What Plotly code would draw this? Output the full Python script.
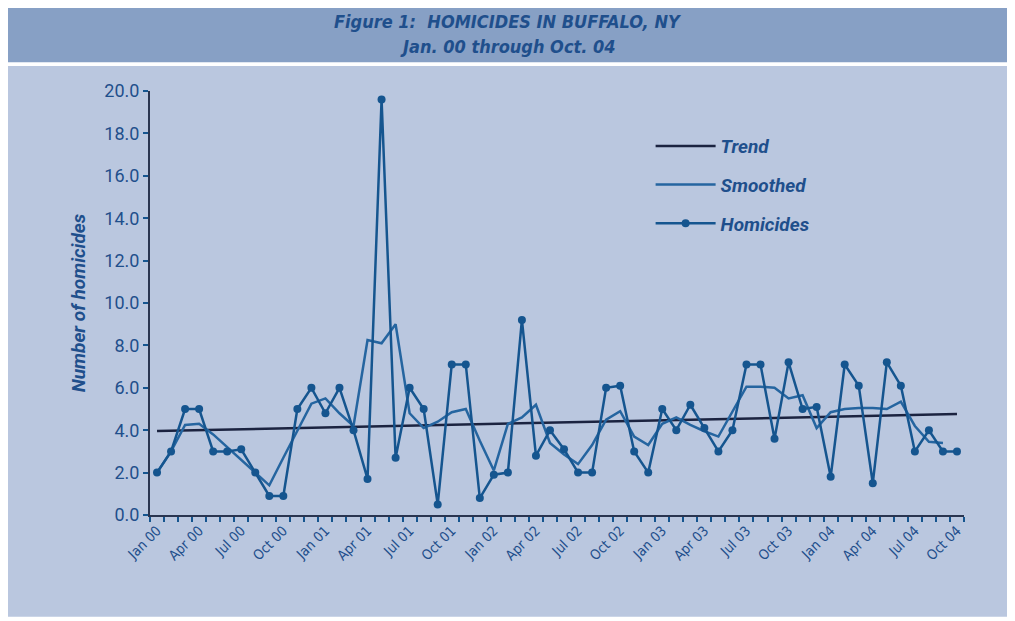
import plotly.graph_objects as go

# monthly homicides, Jan 2000 .. Oct 2004
homicides = [2.0, 3.0, 5.0, 5.0, 3.0, 3.0, 3.1, 2.0, 0.9, 0.9, 5.0, 6.0,
             4.8, 6.0, 4.0, 1.7, 19.6, 2.7, 6.0, 5.0, 0.5, 7.1, 7.1, 0.8,
             1.9, 2.0, 9.2, 2.8, 4.0, 3.1, 2.0, 2.0, 6.0, 6.1, 3.0, 2.0,
             5.0, 4.0, 5.2, 4.1, 3.0, 4.0, 7.1, 7.1, 3.6, 7.2, 5.0, 5.1,
             1.8, 7.1, 6.1, 1.5, 7.2, 6.1, 3.0, 4.0, 3.0, 3.0]
smoothed = [2.0, 3.0, 4.25, 4.3, 3.8, 3.2, 2.6, 2.0, 1.4, 2.7, 4.0, 5.25,
            5.5, 4.8, 4.2, 8.25, 8.1, 9.0, 4.8, 4.1, 4.4, 4.85, 5.0, 3.5,
            2.1, 4.3, 4.6, 5.2, 3.4, 2.85, 2.4, 3.3, 4.5, 4.9, 3.7, 3.3,
            4.3, 4.6, 4.25, 3.95, 3.7, 4.9, 6.05, 6.05, 6.0, 5.5, 5.65, 4.1,
            4.85, 5.0, 5.05, 5.05, 5.0, 5.35, 4.2, 3.45, 3.4, None]
trend_ends = [3.96, 4.76]
tick_labels = ["Jan 00", "Apr 00", "Jul 00", "Oct 00",
               "Jan 01", "Apr 01", "Jul 01", "Oct 01",
               "Jan 02", "Apr 02", "Jul 02", "Oct 02",
               "Jan 03", "Apr 03", "Jul 03", "Oct 03",
               "Jan 04", "Apr 04", "Jul 04", "Oct 04"]
months = list(range(len(homicides)))

BLUE = "#15558f"
TXT = "#1f4f8c"
narrow = "DejaVu Sans Condensed, Liberation Sans Narrow, sans-serif"

fig = go.Figure()
fig.add_trace(go.Scatter(x=[months[0], months[-1]], y=trend_ends, mode="lines",
                         name="Trend", legendgroup="a",
                         line=dict(color="#1b2340", width=2.5)))
fig.add_trace(go.Scatter(x=months, y=smoothed, mode="lines",
                         name="Smoothed", legendgroup="b",
                         line=dict(color="#2565a0", width=2.5)))
fig.add_trace(go.Scatter(x=months, y=homicides, mode="lines+markers",
                         name="Homicides", legendgroup="c",
                         line=dict(color=BLUE, width=2.5),
                         marker=dict(color=BLUE, size=8)))

# page panels (title band + plot panel), in paper coords of the plot area
fig.add_shape(type="rect", xref="paper", yref="paper", layer="below",
              x0=-0.19, x1=1.058, y0=1.068, y1=1.21,
              fillcolor="#87a0c5", line=dict(width=0))
fig.add_shape(type="rect", xref="paper", yref="paper", layer="below",
              x0=-0.19, x1=1.058, y0=-0.24, y1=1.059,
              fillcolor="#bac7df", line=dict(width=0))

fig.add_annotation(text="<b><i>Figure 1:  HOMICIDES IN BUFFALO, NY</i></b>",
                   xref="paper", yref="paper", x=0.44, y=1.164, yanchor="middle",
                   showarrow=False, font=dict(family=narrow, size=18, color=TXT))
fig.add_annotation(text="<b><i>Jan. 00 through Oct. 04</i></b>",
                   xref="paper", yref="paper", x=0.44, y=1.105, yanchor="middle",
                   showarrow=False, font=dict(family=narrow, size=18, color=TXT))

fig.update_xaxes(range=[-0.5, len(months) - 0.5],
                 tickmode="array", tickvals=months[::3], ticktext=tick_labels,
                 tickangle=-45, ticks="", showgrid=False, zeroline=False,
                 showline=True, linecolor="#2a3550", linewidth=2,
                 tickfont=dict(family=narrow, size=14, color=TXT),
                 minor=dict(ticks="outside", tick0=-0.5, dtick=1, ticklen=5,
                            tickcolor=BLUE, tickwidth=1.5, showgrid=False))
fig.update_yaxes(range=[0, 20], dtick=2, tickformat=".1f",
                 ticks="outside", ticklen=5, tickcolor=BLUE, tickwidth=1.5,
                 showgrid=False, zeroline=False,
                 showline=True, linecolor="#2a3550", linewidth=2,
                 tickfont=dict(family="Roboto, sans-serif", size=18, color=TXT),
                 title=dict(text="<b><i>Number of homicides</i></b>", standoff=14,
                            font=dict(family="Roboto, sans-serif", size=19, color=TXT)))

# page body adds an 8px offset, so margins are 8px smaller than the target
fig.update_layout(width=1015, height=621,
                  margin=dict(l=142, r=59, t=83, b=114),
                  paper_bgcolor="white", plot_bgcolor="rgba(0,0,0,0)",
                  showlegend=True,
                  legend=dict(x=0.615, y=0.915, xanchor="left", yanchor="top",
                              bgcolor="rgba(0,0,0,0)", tracegroupgap=11,
                              itemwidth=60,
                              font=dict(family="Roboto, sans-serif", size=19,
                                        color=TXT, style="italic", weight="bold")))

fig.write_html("out.html")
